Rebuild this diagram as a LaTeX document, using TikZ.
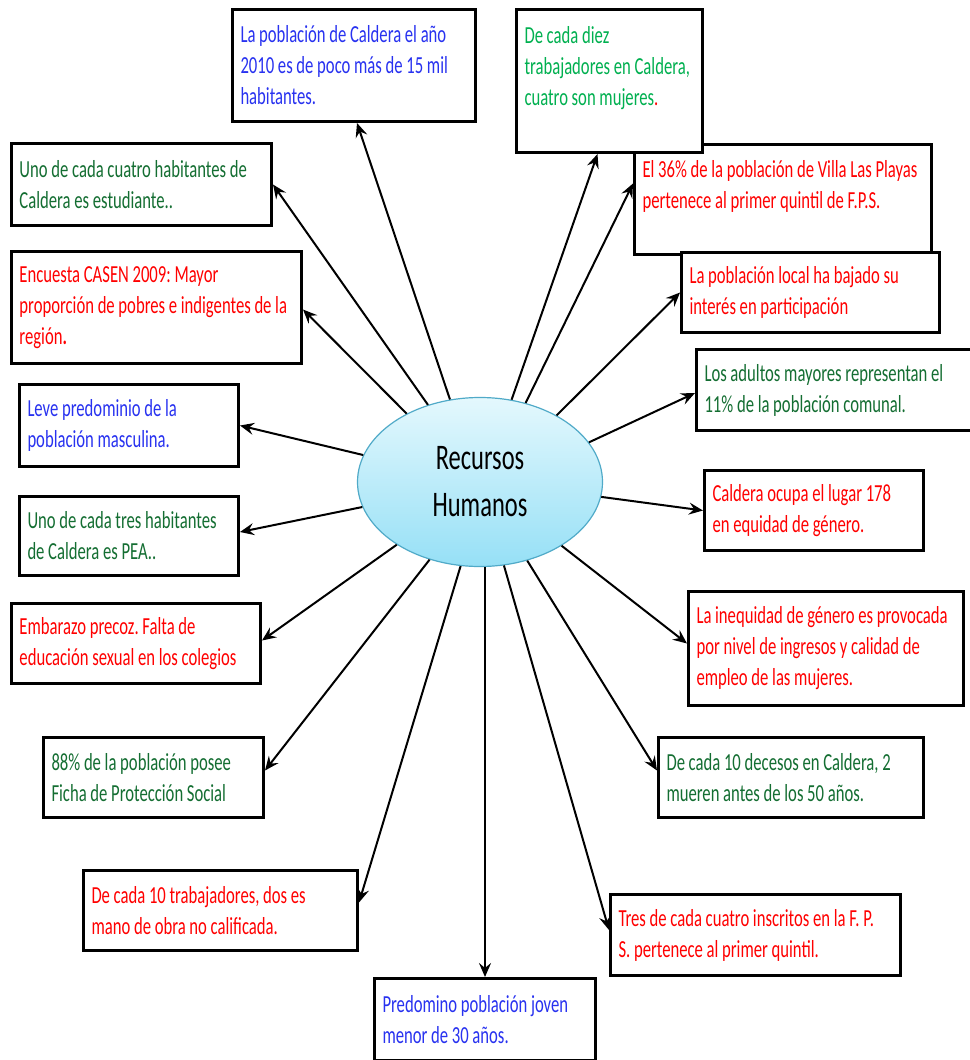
\documentclass[tikz,border=0pt]{standalone}
\usepackage{fontspec}
\setmainfont{Carlito}[FakeStretch=0.68]
\usepackage{xcolor}
\usepackage{tikz}
\usetikzlibrary{arrows.meta,shapes.geometric}
\definecolor{txtblue}{RGB}{40,50,240}
\definecolor{txtgreen}{RGB}{0,176,80}
\definecolor{txtdkgreen}{RGB}{20,110,50}
\definecolor{txtred}{RGB}{255,0,0}
\definecolor{ovaltop}{RGB}{228,248,253}
\definecolor{ovalbot}{RGB}{150,224,246}
\definecolor{ovalline}{RGB}{80,170,200}
\newcommand{\factfont}{\fontsize{24.5}{31}\selectfont\spaceskip 3.7pt plus 2pt minus 1pt\relax\hyphenpenalty 10000\relax}
\frenchspacing

\begin{document}
\begin{tikzpicture}[x=1pt, y=-1pt,
    fact/.style={draw, line width=3pt, fill=white, anchor=north west, align=flush left, inner xsep=8pt, inner ysep=3pt, font=\factfont},
    link/.style={-{Stealth[length=14pt,width=12pt,inset=5pt]}, line width=2pt}
]
\useasboundingbox (0,0) rectangle (969,1060);
\fill[white] (0,0) rectangle (969,1060);

\node[draw=ovalline, line width=1.2pt, ellipse, top color=ovaltop, bottom color=ovalbot, minimum width=245pt, minimum height=169pt, align=center, font=\fontsize{36}{47}\selectfont] (rrhh) at (480,482) {Recursos\\Humanos};

\node[fact, text=txtblue, text width=227pt, minimum width=243pt, minimum height=112pt] (pop) at (231,8) {La población de Caldera el año\\2010 es de poco más de 15 mil\\habitantes.};
\node[fact, text=txtred, text width=281pt, minimum width=297pt, minimum height=110pt] (villa) at (633,143) {El 36\% de la población de Villa Las Playas\\pertenece al primer quintil de F.P.S.\\ \mbox{}};
\node[fact, text=txtgreen, text width=170pt, minimum width=186pt, minimum height=143pt] (mujeres) at (515,8) {De cada diez\\trabajadores en Caldera,\\cuatro son mujeres{\color{txtred}.}\\ \mbox{}};
\node[fact, text=txtdkgreen, text width=244pt, minimum width=260pt, minimum height=82pt] (estud) at (10,142) {Uno de cada cuatro habitantes de\\Caldera es estudiante..};
\node[fact, text=txtred, text width=274pt, minimum width=290pt, minimum height=112pt] (casen) at (10,250) {Encuesta CASEN 2009: Mayor\\proporción de pobres e indigentes de la\\región\textbf{.}};
\node[fact, text=txtred, text width=242pt, minimum width=258pt, minimum height=80pt] (partic) at (680,251) {La población local ha bajado su\\interés en participación};
\node[fact, text=txtdkgreen, text width=266pt, minimum width=282pt, minimum height=81pt] (adultos) at (695,348) {Los adultos mayores representan el\\11\% de la población comunal.};
\node[fact, text=txtblue, text width=203pt, minimum width=219pt, minimum height=82pt] (masc) at (18,383) {Leve predominio de la\\población masculina.};
\node[fact, text=txtdkgreen, text width=203pt, minimum width=219pt, minimum height=79pt] (pea) at (18,495) {Uno de cada tres habitantes\\de Caldera es PEA..};
\node[fact, text=txtred, text width=203pt, minimum width=219pt, minimum height=80pt] (equidad) at (703,469) {Caldera ocupa el lugar 178\\en equidad de género.};
\node[fact, text=txtred, text width=233pt, minimum width=249pt, minimum height=80pt] (embarazo) at (10,602) {Embarazo precoz. Falta de\\educación sexual en los colegios};
\node[fact, text=txtred, text width=259pt, minimum width=275pt, minimum height=114pt] (inequidad) at (687,590) {La inequidad de género es provocada\\por nivel de ingresos y calidad de\\empleo de las mujeres.};
\node[fact, text=txtdkgreen, text width=204pt, minimum width=220pt, minimum height=80pt] (ficha) at (42,736) {88\% de la población posee\\Ficha de Protección Social};
\node[fact, text=txtdkgreen, text width=249pt, minimum width=265pt, minimum height=80pt] (decesos) at (657,736) {De cada 10 decesos en Caldera, 2\\mueren antes de los 50 años.};
\node[fact, text=txtred, text width=258pt, minimum width=274pt, minimum height=80pt] (obra) at (82,869) {De cada 10 trabajadores, dos es\\mano de obra no calificada.};
\node[fact, text=txtred, text width=274pt, minimum width=290pt, minimum height=81pt] (inscritos) at (609,893) {Tres de cada cuatro inscritos en la F. P.\\S. pertenece al primer quintil.};
\node[fact, text=txtblue, text width=205pt, minimum width=221pt, minimum height=82pt] (joven) at (373,977) {Predomino población joven\\menor de 30 años.};

\draw[link] (rrhh.110) -- ([xshift=3pt]pop.south);
\draw[link] (rrhh.69) -- ([xshift=-12pt]mujeres.south);
\draw[link] (rrhh.124) -- (estud.east);
\draw[link] (rrhh.60) -- ([yshift=16pt]villa.west);
\draw[link] (rrhh.137) -- ([yshift=-2pt]casen.east);
\draw[link] (rrhh.41) -- (partic.west);
\draw[link] (rrhh.20) -- ([yshift=-3pt]adultos.west);
\draw[link] (rrhh.167) -- (masc.east);
\draw[link] (rrhh.192) -- ([yshift=4pt]pea.east);
\draw[link] (rrhh.-7) -- (equidad.west);
\draw[link] (rrhh.217) -- ([yshift=3pt]embarazo.east);
\draw[link] (rrhh.-38) -- ([yshift=5pt]inequidad.west);
\draw[link] (rrhh.237) -- ([yshift=7pt]ficha.east);
\draw[link] (rrhh.-59) -- ([yshift=7pt]decesos.west);
\draw[link] (rrhh.257) -- ([yshift=8pt]obra.east);
\draw[link] (rrhh.-74) -- ([yshift=5pt]inscritos.west);
\draw[link] (joven.north |- rrhh.south) -- (joven.north);
\end{tikzpicture}
\end{document}
